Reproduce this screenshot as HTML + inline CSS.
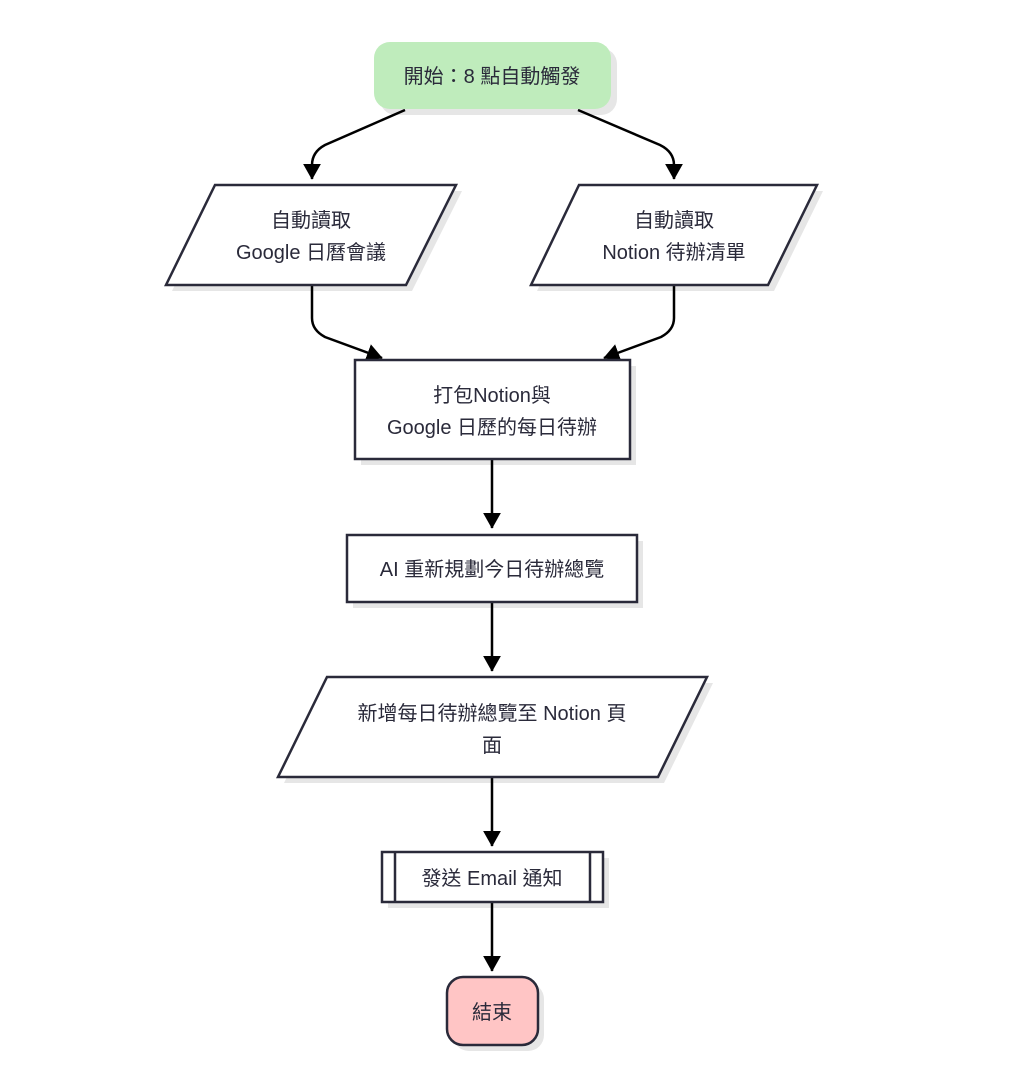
<!DOCTYPE html>
<html><head><meta charset="utf-8"><style>
body{margin:0;background:#fff;}
svg text{font-family:"Liberation Sans","Noto Sans CJK TC",sans-serif;font-size:20px;fill:#2a2a3a;text-anchor:middle;}
</style></head><body>
<svg width="1024" height="1063" viewBox="0 0 1024 1063" xmlns="http://www.w3.org/2000/svg">
<defs>
<marker id="a" markerWidth="16" markerHeight="18" refX="9.5" refY="5" orient="auto" markerUnits="userSpaceOnUse" viewBox="0 0 10 10" preserveAspectRatio="none"><path d="M0,0 L10,5 L0,10 z" fill="#000"/></marker>
</defs>
<g fill="#e6e6e6" stroke="none">
<rect x="380" y="48" width="237" height="67" rx="16"/>
<polygon points="221,191 462,191 412,291 172,291"/>
<polygon points="585,191 823,191 774,291 537,291"/>
<rect x="361" y="366" width="275" height="99"/>
<rect x="353" y="541" width="290" height="67"/>
<polygon points="333,683 713,683 664,783 284,783"/>
<rect x="388" y="858" width="221" height="50"/>
<rect x="453" y="983" width="91" height="68" rx="16"/>
</g>
<g stroke="#000" stroke-width="2.5" fill="none">
<path d="M405,110 L325,145 Q312,152 312,165 L312,179" marker-end="url(#a)"/>
<path d="M578,110 L660,145 Q674,152 674,165 L674,179" marker-end="url(#a)"/>
<path d="M312,285 L312,318 Q312,330 325,337 L382,358" marker-end="url(#a)"/>
<path d="M674,285 L674,318 Q674,330 661,337 L604,358" marker-end="url(#a)"/>
<path d="M492,459 L492,528" marker-end="url(#a)"/>
<path d="M492,602 L492,671" marker-end="url(#a)"/>
<path d="M492,777 L492,846" marker-end="url(#a)"/>
<path d="M492,902 L492,971" marker-end="url(#a)"/>
</g>
<rect x="374" y="42" width="237" height="67" rx="16" fill="#bfecbc"/>
<g fill="#fff" stroke="#2a2a3a" stroke-width="2.5">
<polygon points="215,185 456,185 406,285 166,285"/>
<polygon points="579,185 817,185 768,285 531,285"/>
<rect x="355" y="360" width="275" height="99"/>
<rect x="347" y="535" width="290" height="67"/>
<polygon points="327,677 707,677 658,777 278,777"/>
<rect x="382" y="852" width="221" height="50"/>
<line x1="395" y1="852" x2="395" y2="902"/>
<line x1="590" y1="852" x2="590" y2="902"/>
<rect x="447" y="977" width="91" height="68" rx="16" fill="#ffc5c5"/>
</g>
<text x="492" y="83">開始：8 點自動觸發</text>
<text x="311" y="227">自動讀取</text>
<text x="311" y="259">Google 日曆會議</text>
<text x="674" y="227">自動讀取</text>
<text x="674" y="259">Notion 待辦清單</text>
<text x="492" y="402">打包Notion與</text>
<text x="492" y="434">Google 日歷的每日待辦</text>
<text x="492" y="576">AI 重新規劃今日待辦總覽</text>
<text x="492" y="720">新增每日待辦總覽至 Notion 頁</text>
<text x="492" y="752">面</text>
<text x="492" y="885">發送 Email 通知</text>
<text x="492" y="1019">結束</text>
</svg>
</body></html>
